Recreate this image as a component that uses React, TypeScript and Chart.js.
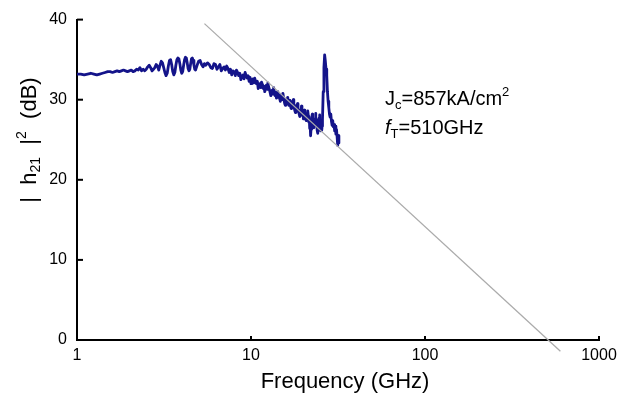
import React, { useEffect, useRef } from 'react';
import { Chart, registerables } from 'chart.js';

Chart.register(...registerables);

// Measured |h21|^2 trace: frequency (GHz) and gain (dB), row by row
const freqGHz = [
  1.0, 1.05, 1.1, 1.15, 1.2, 1.25, 1.3, 1.35, 1.4, 1.45, 1.5, 1.55, 1.6, 1.65, 1.7, 1.75, 1.8, 1.85, 1.9, 1.95,
  2.0, 2.05, 2.1, 2.15, 2.2, 2.25, 2.3, 2.35, 2.4, 2.45, 2.5, 2.55, 2.6, 2.65, 2.7, 2.75, 2.8, 2.85, 2.9, 2.95,
  3.0, 3.05, 3.1, 3.15, 3.2, 3.25, 3.3, 3.35, 3.4, 3.45, 3.5, 3.55, 3.6, 3.65, 3.7, 3.75, 3.8, 3.85, 3.9, 3.95,
  4.0, 4.05, 4.1, 4.15, 4.2, 4.25, 4.3, 4.35, 4.4, 4.45, 4.5, 4.55, 4.6, 4.65, 4.7, 4.75, 4.8, 4.9, 5.0, 5.1,
  5.2, 5.3, 5.4,
  5.5, 5.625, 5.75, 5.875,
  6.0, 6.125, 6.25, 6.375, 6.5, 6.625, 6.75, 6.875,
  7.0, 7.125, 7.25, 7.375, 7.5, 7.625, 7.75, 7.875,
  8.0, 8.125, 8.25, 8.375, 8.5, 8.625, 8.75, 8.875,
  9.0, 9.125, 9.25, 9.375, 9.5, 9.625, 9.75, 9.875,
  10.0, 10.125, 10.25, 10.375, 10.5, 10.625, 10.75, 10.875,
  11.0, 11.125, 11.25, 11.375, 11.5, 11.625, 11.75, 11.875,
  12.0, 12.125, 12.25, 12.375, 12.5, 12.625, 12.75, 12.875,
  13.0, 13.125, 13.25, 13.375, 13.5, 13.625, 13.75, 13.875,
  14.0, 14.125, 14.25, 14.375, 14.5, 14.625, 14.75, 14.875,
  15.0, 15.125, 15.25, 15.375, 15.5, 15.625, 15.75, 15.875,
  16.0, 16.125, 16.25, 16.375, 16.5, 16.625, 16.75, 16.875,
  17.0, 17.125, 17.25, 17.375, 17.5, 17.625, 17.75, 17.875,
  18.0, 18.125, 18.25, 18.375, 18.5, 18.625, 18.75, 18.875,
  19.0, 19.125, 19.25, 19.375, 19.5, 19.625, 19.75, 19.875,
  20.0, 20.125, 20.25, 20.375, 20.5, 20.625, 20.75, 20.875,
  21.0, 21.125, 21.25, 21.375, 21.5, 21.625, 21.75, 21.875,
  22.0, 22.125, 22.25, 22.375, 22.5, 22.625, 22.75, 22.875,
  23.0, 23.125, 23.25, 23.375, 23.5, 23.625, 23.75, 23.875,
  24.0, 24.125, 24.25, 24.375, 24.5, 24.625, 24.75, 24.875,
  25.0, 25.125, 25.25, 25.375, 25.5, 25.625, 25.75,
  26.0, 26.25, 26.5, 26.75, 27.0, 27.25, 27.5, 27.75, 28.0, 28.25, 28.5, 28.75, 29.0, 29.25, 29.5,
  29.75, 30.0, 30.25, 30.5, 30.75, 31.0, 31.25, 31.5, 31.75, 32.0,
];

const h21dB = [
  33.2, 33.2, 33.1, 33.2, 33.3, 33.2, 33.1, 33.2, 33.3, 33.4, 33.5, 33.5, 33.4, 33.5, 33.6, 33.5, 33.6, 33.7, 33.6, 33.5,
  33.6, 33.7, 33.5, 33.6, 33.8, 33.7, 34.0, 33.6, 33.8, 33.6, 33.8, 34.1, 34.3, 34.0, 33.6, 33.8, 34.0, 34.4, 34.2, 33.7,
  34.3, 34.8, 34.6, 34.0, 33.4, 33.0, 33.3, 34.2, 34.9, 35.0, 34.4, 33.5, 33.1, 33.4, 34.3, 35.0, 35.2, 35.1, 34.5, 33.7,
  33.3, 33.5, 34.3, 35.0, 35.3, 35.2, 34.6, 33.9, 33.6, 33.8, 34.5, 35.1, 35.2, 34.9, 34.3, 33.8, 33.7, 34.3, 34.8, 34.9,
  34.4, 34.1, 34.5,
  34.3, 34.6, 34.4, 34.0,
  33.9, 34.5, 34.4, 33.8, 34.1, 34.4, 33.6, 33.9,
  34.1, 33.7, 34.2, 33.9, 33.4, 33.8, 33.1, 33.6,
  33.5, 33.0, 33.7, 33.4, 33.0, 33.3, 32.5, 32.9,
  33.1, 32.6, 33.4, 33.0, 32.7, 33.0, 32.3, 32.8,
  32.0, 32.4, 32.6, 32.1, 32.7, 32.3, 32.0, 32.3,
  31.4, 31.8, 32.0, 31.5, 32.2, 31.9, 31.4, 31.7,
  31.0, 31.4, 31.8, 31.3, 32.1, 31.6, 31.3, 30.9,
  30.5, 31.0, 31.2, 30.7, 31.5, 31.0, 30.5, 30.9,
  30.2, 30.6, 31.0, 30.3, 30.6, 30.1, 29.8, 30.4,
  30.6, 30.0, 30.8, 30.3, 29.9, 29.5, 29.3, 29.9,
  30.1, 29.6, 30.3, 29.8, 29.3, 29.9, 29.7, 29.2,
  28.9, 29.5, 29.8, 29.2, 30.0, 29.4, 28.9, 28.6,
  28.4, 29.0, 29.3, 28.8, 29.5, 29.0, 28.6, 28.3,
  27.9, 28.4, 28.7, 28.2, 29.2, 28.6, 28.0, 28.5,
  27.6, 28.1, 28.7, 28.0, 28.3, 27.8, 27.4, 27.9,
  28.3, 27.6, 28.6, 27.9, 27.2, 27.6, 26.4, 26.9,
  25.5, 26.3, 27.2, 27.7, 28.2, 27.3, 27.6, 27.0,
  26.5, 27.1, 27.6, 27.0, 28.3, 27.8, 27.4, 26.8,
  26.2, 26.6, 25.8, 26.5, 27.3, 27.7, 28.1, 27.5,
  27.3, 26.6, 26.1, 26.8, 26.2, 26.7, 27.5,
  31.0, 34.0, 35.6, 34.8, 33.8, 33.0, 31.0, 29.8, 29.0, 28.2, 27.8, 28.2, 27.3, 26.8, 27.4,
  26.6, 26.9, 26.1, 26.7, 25.7, 26.3, 25.4, 24.3, 25.5, 24.6,
];

// -20 dB/decade guide line
const fitFreqGHz = [5.4, 600];
const fitDB = [39.5, -1.4];

const xTicks = [1, 10, 100, 1000];
const yTicks = [0, 10, 20, 30, 40];

const FONT = '"Liberation Sans", Arial, sans-serif';

type Part = { t: string; size: number; dy: number; italic?: boolean };

function drawSeq(ctx: CanvasRenderingContext2D, x: number, y: number, parts: Part[]) {
  let cx = x;
  for (const p of parts) {
    ctx.font = `${p.italic ? 'italic ' : ''}${p.size}px ${FONT}`;
    ctx.fillText(p.t, cx, y + p.dy);
    cx += ctx.measureText(p.t).width;
  }
  return cx - x;
}

function seqWidth(ctx: CanvasRenderingContext2D, parts: Part[]) {
  let w = 0;
  for (const p of parts) {
    ctx.font = `${p.italic ? 'italic ' : ''}${p.size}px ${FONT}`;
    w += ctx.measureText(p.t).width;
  }
  return w;
}

const decorPlugin = {
  id: 'decor',
  afterDraw(chart: any) {
    const ctx: CanvasRenderingContext2D = chart.ctx;
    const xs = chart.scales.x;
    const ys = chart.scales.y;
    const { left, bottom } = chart.chartArea;
    ctx.save();
    ctx.strokeStyle = '#000';
    ctx.lineWidth = 2;
    yTicks.forEach((v) => {
      const y = ys.getPixelForValue(v);
      ctx.beginPath();
      ctx.moveTo(left, y);
      ctx.lineTo(left + 6, y);
      ctx.stroke();
    });
    xTicks.forEach((v) => {
      const x = xs.getPixelForValue(v);
      ctx.beginPath();
      ctx.moveTo(x, bottom);
      ctx.lineTo(x, bottom - 4);
      ctx.stroke();
    });

    ctx.fillStyle = '#000';
    ctx.textBaseline = 'alphabetic';
    ctx.textAlign = 'left';

    // x title
    ctx.font = `22px ${FONT}`;
    const xt = 'Frequency (GHz)';
    const xtw = ctx.measureText(xt).width;
    const xc = (chart.chartArea.left + chart.chartArea.right) / 2 + 7;
    ctx.fillText(xt, xc - xtw / 2, bottom + 48);

    // y title (rotated)
    const yParts: Part[] = [
      { t: '|  h', size: 22, dy: 0 },
      { t: '21', size: 14, dy: 4 },
      { t: '  |', size: 22, dy: 0 },
      { t: '2', size: 14, dy: -10 },
      { t: '  (dB)', size: 22, dy: 0 },
    ];
    const yw = seqWidth(ctx, yParts);
    ctx.save();
    ctx.translate(36, 140);
    ctx.rotate(-Math.PI / 2);
    drawSeq(ctx, -yw / 2, 0, yParts);
    ctx.restore();

    // annotation
    drawSeq(ctx, 385, 105, [
      { t: 'J', size: 20, dy: 0 },
      { t: 'c', size: 13, dy: 4 },
      { t: '=857kA/cm', size: 20, dy: 0 },
      { t: '2', size: 13, dy: -9 },
    ]);
    drawSeq(ctx, 385, 134, [
      { t: 'f', size: 20, dy: 0, italic: true },
      { t: 'T', size: 13, dy: 4 },
      { t: '=510GHz', size: 20, dy: 0 },
    ]);
    ctx.restore();
  },
};

export default function App() {
  const ref = useRef<HTMLCanvasElement | null>(null);
  useEffect(() => {
    if (!ref.current) return;
    const chart = new Chart(ref.current, {
      type: 'line',
      data: {
        datasets: [
          {
            label: 'fit',
            data: fitFreqGHz.map((f, i) => ({ x: f, y: fitDB[i] })),
            borderColor: '#ababab',
            borderWidth: 1.3,
            pointRadius: 0,
            clip: false as any,
          },
          {
            label: '|h21|^2',
            data: freqGHz.map((f, i) => ({ x: f, y: h21dB[i] })),
            borderColor: '#14148a',
            borderWidth: 2.8,
            borderJoinStyle: 'round',
            borderCapStyle: 'round',
            pointRadius: 0,
            tension: 0,
          },
        ],
      },
      options: {
        animation: false,
        responsive: true,
        maintainAspectRatio: false,
        layout: { padding: { top: 16, right: 27, left: 0, bottom: 0 } },
        plugins: { legend: { display: false }, tooltip: { enabled: false } },
        scales: {
          x: {
            type: 'logarithmic',
            min: 1,
            max: 1000,
            afterBuildTicks: (scale: any) => {
              scale.ticks = xTicks.map((v) => ({ value: v }));
            },
            afterFit: (scale: any) => {
              scale.height = 55;
            },
            ticks: {
              autoSkip: false,
              maxRotation: 0,
              padding: 6,
              color: '#000',
              font: { family: FONT, size: 16 },
              callback: (v: any) => String(v),
            },
            grid: { display: true, drawOnChartArea: false, drawTicks: false },
            border: { display: true, color: '#000', width: 2 },
          },
          y: {
            type: 'linear',
            min: 0,
            max: 40,
            afterBuildTicks: (scale: any) => {
              scale.ticks = yTicks.map((v) => ({ value: v }));
            },
            afterFit: (scale: any) => {
              scale.width = 77;
            },
            ticks: {
              padding: 10,
              color: '#000',
              font: { family: FONT, size: 16 },
              callback: (v: any) => String(v),
            },
            grid: { display: true, drawOnChartArea: false, drawTicks: false },
            border: { display: true, color: '#000', width: 2 },
          },
        },
      },
      plugins: [decorPlugin],
    } as any);
    return () => chart.destroy();
  }, []);
  return (
    <div style={{ position: 'absolute', left: 0, top: 0, width: 626, height: 395, background: '#fff' }}>
      <canvas ref={ref} />
    </div>
  );
}
